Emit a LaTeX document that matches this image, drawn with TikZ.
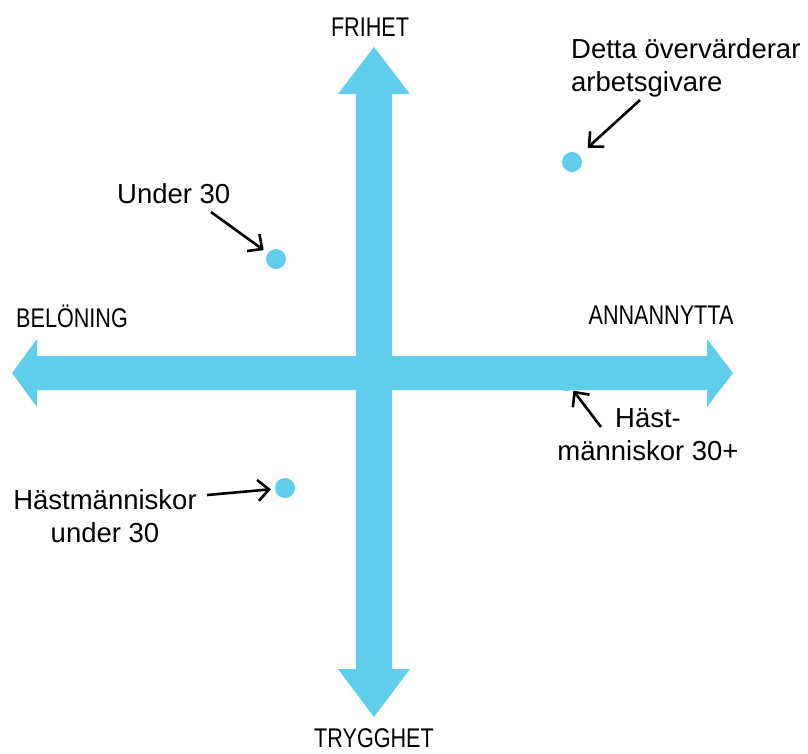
\documentclass[tikz,border=0pt]{standalone}
\usepackage{fontspec}
\setmainfont{Liberation Sans}
\newfontfamily\narrowfont[FakeStretch=0.80]{Liberation Sans}
\usetikzlibrary{arrows.meta}
\definecolor{axisblue}{RGB}{96,206,234}
\tikzset{
  bigarrow/.style={fill=axisblue, draw=none},
  dotmark/.style={circle, fill=axisblue, draw=none, minimum size=20pt, inner sep=0pt},
  axislabel/.style={inner sep=0pt, anchor=base, font=\narrowfont\fontsize{27}{33}\selectfont},
  notelabel/.style={inner sep=0pt, font=\fontsize{27.5}{33}\selectfont},
  pointer/.style={draw=black, line width=2.6pt, -{Straight Barb[length=11pt,width=21pt]}}
}
\begin{document}
\begin{tikzpicture}[x=1pt,y=-1pt]
\useasboundingbox (0,0) rectangle (808,753);
% horizontal double arrow
\fill[bigarrow] (12,373) -- (37,339) -- (37,356) -- (707,356) -- (707,339) -- (733,373)
  -- (707,407) -- (707,390) -- (37,390) -- (37,407) -- cycle;
% vertical double arrow
\fill[bigarrow] (374,47) -- (410,94) -- (392,94) -- (392,669) -- (410,669) -- (374,717)
  -- (338,669) -- (356,669) -- (356,94) -- (338,94) -- cycle;
% axis labels
\node[axislabel] (frihet) at (370,36) {FRIHET};
\node[axislabel] (annan) at (661,324) {ANNANNYTTA};
\node[axislabel] (belon) at (72,327) {BELÖNING};
\node[axislabel] (trygg) at (374,747) {TRYGGHET};
% dots
\node[dotmark] (d1) at (572,162) {};
\node[dotmark] (d2) at (276,259) {};
\node[dotmark] (d3) at (285,488) {};
\node[dotmark] (d4) at (566,381) {};
% notes
\node[notelabel, anchor=base west] (t1) at (571,58) {\begin{tabular}[t]{@{}l@{}}Detta övervärderar\\arbetsgivare\end{tabular}};
\node[notelabel, anchor=base west] (t2) at (117,203) {Under 30};
\node[notelabel, anchor=base] (t3) at (105,509) {\begin{tabular}[t]{@{}c@{}}Hästmänniskor\\under 30\end{tabular}};
\node[notelabel, anchor=base] (t4) at (648,427) {\begin{tabular}[t]{@{}c@{}}Häst-\\människor 30+\end{tabular}};
% pointer start points
\coordinate (s1) at (640,100);
\coordinate (s2) at (211,212);
\coordinate (s3) at (207,495);
\coordinate (s4) at (601,427);
\draw[pointer, shorten >=11pt] (s1) -- (d1);
\draw[pointer, shorten >=5pt] (s2) -- (d2);
\draw[pointer, shorten >=4pt] (s3) -- (d3);
\draw[pointer, shorten >=2pt] (s4) -- (d4);
\end{tikzpicture}
\end{document}
